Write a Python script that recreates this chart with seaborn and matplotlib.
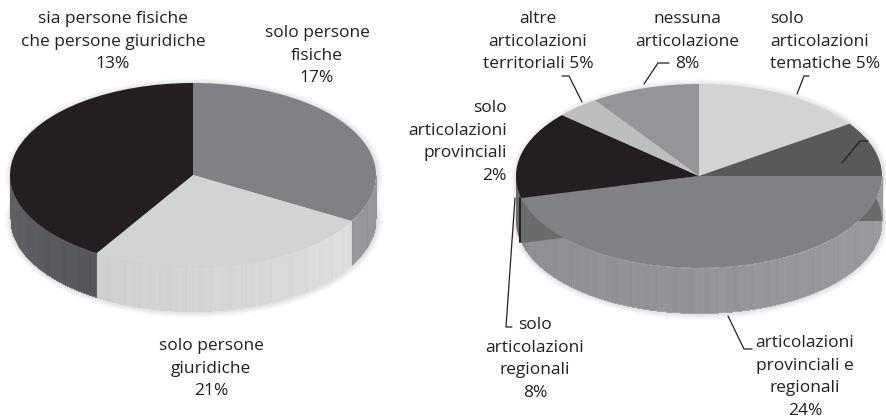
import numpy as np
import seaborn as sns
import matplotlib.pyplot as plt
from matplotlib.patches import Ellipse

# slice values, clockwise from the top
left_values = [17, 13, 21]
left_colors = ["#808184", "#D1D3D4", "#231F20"]
right_values = [8, 5, 24, 8, 2, 5]
right_colors = ["#D1D3D4", "#58595B", "#808184", "#231F20", "#BCBEC0", "#939598"]

# side wall gradients per slice (start and end as seen going clockwise)
left_sides = [("#8E8F92", "#97989B"), ("#DCDEDF", "#CDCFD0"), ("#56575A", "#737476")]
right_sides = [("#58595B", "#58595B"), ("#58595B", "#58595B"), ("#9A9B9E", "#8E8F92"),
               ("#6A6B6D", "#6A6B6D"), ("#BCBEC0", "#BCBEC0"), ("#939598", "#939598")]

# (text, x, first line y, alignment)
labels = [
    ("sia persone fisiche\nche persone giuridiche\n13%", 113, 19, "center"),
    ("solo persone\nfisiche\n17%", 317, 33, "center"),
    ("solo persone\ngiuridiche\n21%", 211, 346, "center"),
    ("altre\narticolazioni\nterritoriali 5%", 538, 19, "center"),
    ("nessuna\narticolazione\n8%", 687, 19, "center"),
    ("solo\narticolazioni\ntematiche 5%", 770, 19, "left"),
    ("solo\narticolazioni\nprovinciali\n2%", 507, 108, "right"),
    ("solo\narticolazioni\nregionali\n8%", 535, 325, "center"),
    ("articolazioni\nprovinciali e\nregionali\n24%", 805, 343, "center"),
]
leaders = [
    ([562, 569, 582], [76, 76, 102]),
    ([669, 658, 644], [63, 63, 84]),
    ([809, 804, 797], [76, 76, 94]),
    ([868, 860, 842], [141, 141, 163]),
    ([515, 506, 512], [198, 327, 327]),
    ([728, 744, 752], [316, 349, 349]),
]

WIDTH, HEIGHT = 886, 418
RX, RY = 183, 92
LINE_H = 22.6

sns.set_theme(style="white")
plt.rcParams["font.family"] = ["Open Sans", "DejaVu Sans"]

fig = plt.figure(figsize=(WIDTH / 100, HEIGHT / 100), dpi=100, facecolor="white")


def side_stripes(ax, values, sides, depth):
    # vertical strips along the front edge, one colour per strip
    shifts = [0, 2, -1, 1, 0, -3, 1, 3, 0, -1, -2, 0, 2, 0, -1, -5, 1]
    widths = [9, 3, 14, 5, 7, 2, 11, 4, 17, 3, 6, 8, 2, 13, 5, 2, 10]
    band_shift = np.concatenate([[s] * w for s, w in zip(shifts, widths)])
    total = sum(values)
    xs = np.linspace(-1, 1, RX * 4)
    ys = -np.sqrt(1 - xs ** 2)
    cw = (90 - np.degrees(np.arctan2(ys, xs))) % 360
    edges = np.cumsum([0] + values) / total * 360
    colors = []
    for i, (start, end) in enumerate(sides):
        colors.append(sns.blend_palette([start, end], 64))
    strip_colors = []
    for k, angle in enumerate(cw):
        idx = min(np.searchsorted(edges, angle, side="right") - 1, len(values) - 1)
        frac = (angle - edges[idx]) / (edges[idx + 1] - edges[idx])
        base = np.array(colors[idx][min(int(frac * 64), 63)])
        shift = band_shift[k % len(band_shift)] / 255
        strip_colors.append(tuple(np.clip(base + shift, 0, 1)))
    ax.vlines(xs, ys - depth, ys, colors=strip_colors, linewidth=0.8, zorder=2)


def draw_pie(cx, cy, depth_px, values, colors, sides, under=None):
    xpad, ypad_top, ypad_bottom = 1.1, 1.1, 1.8
    left = cx - RX * xpad
    width = 2 * RX * xpad
    top = cy - RY * ypad_top
    height = RY * (ypad_top + ypad_bottom)
    ax = fig.add_axes([left / WIDTH, 1 - (top + height) / HEIGHT, width / WIDTH, height / HEIGHT])
    depth = depth_px / RY

    # soft shadow around the disc
    for grow, alpha in [(0.03, 0.06), (0.02, 0.07), (0.01, 0.09)]:
        for yy in (0, -depth):
            ax.add_patch(Ellipse((0.005, yy - 0.01), 2 + 2 * grow, 2 + 4 * grow, color="#808080",
                                 alpha=alpha, lw=0, zorder=0))

    side_stripes(ax, values, sides, depth)

    if under is not None:
        wedges, _ = ax.pie(values, colors=under, startangle=90, counterclock=False,
                           center=(0, -depth), wedgeprops={"linewidth": 0})
        for w in wedges:
            w.set_zorder(3)

    wedges, _ = ax.pie(values, colors=colors, startangle=90, counterclock=False,
                       wedgeprops={"linewidth": 0})
    for w in wedges:
        w.set_zorder(4)

    ax.set_aspect("auto")
    ax.set_xlim(-xpad, xpad)
    ax.set_ylim(-ypad_bottom, ypad_top)
    ax.set_axis_off()


draw_pie(193, 175, 44, left_values, sns.color_palette(left_colors), left_sides)
draw_pie(699, 176, 45, right_values, sns.color_palette(right_colors), right_sides,
         under=["none", "#6A6B6D", "none", "#6A6B6D", "none", "none"])

# overlay in pixel coordinates for the text and the leader lines
over = fig.add_axes([0, 0, 1, 1])
over.set_xlim(0, WIDTH)
over.set_ylim(HEIGHT, 0)
over.set_axis_off()
over.patch.set_alpha(0)

for text, x, y, ha in labels:
    for i, line in enumerate(text.split("\n")):
        over.text(x, y + i * LINE_H, line, ha=ha, va="center", fontsize=12.5, color="#231F20")

for xs, ys in leaders:
    over.plot(xs, ys, color="#231F20", linewidth=0.9, solid_joinstyle="miter", zorder=5)

# thin dark edge of the black slice at the far left of the right pie
over.plot([520, 520], [198, 242], color="#231F20", linewidth=1.4, zorder=4)

fig.savefig("out.png", dpi=100)
